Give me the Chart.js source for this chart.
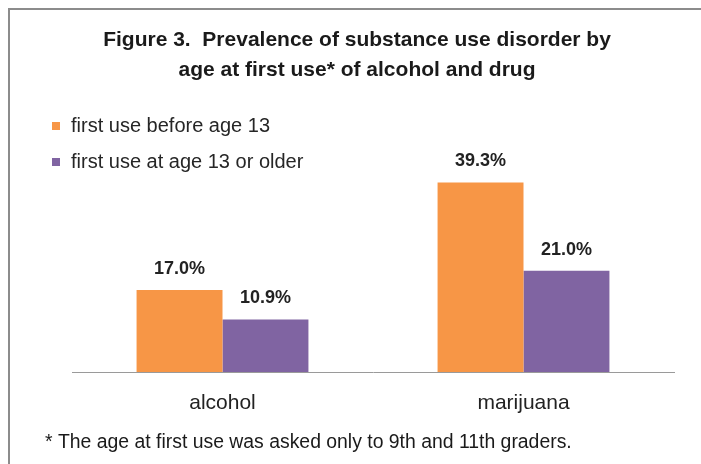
<!DOCTYPE html>
<html>
  <head>
    <title>Figure 3. Prevalence of substance use disorder by age at first use</title>
    <script src="https://cdn.jsdelivr.net/npm/chart.js@4/dist/chart.umd.min.js"></script>
    <style>
      html, body { margin: 0; padding: 0; background: #fff; }
      .wrapper { position: relative; width: 701px; height: 464px; }
    </style>
  </head>
  <body>
    <div class="wrapper">
      <canvas id="myChart" width="701" height="464"></canvas>
    </div>

    <script>
// categories along the x-axis
var substances = ['alcohol', 'marijuana'];
// prevalence (%) for each group
var beforeThirteen = [17.0, 39.3];
var thirteenOrOlder = [10.9, 21.0];
var seriesNames = ['first use before age 13', 'first use at age 13 or older'];
var titleLines = ['Figure 3.  Prevalence of substance use disorder by', 'age at first use* of alcohol and drug'];
var footnote = '* The age at first use was asked only to 9th and 11th graders.';

var FONT = 'Liberation Sans, Arial, sans-serif';

// white page + the grey frame on the top and left edges
var framePlugin = {
  id: 'frame',
  beforeDraw: function (c) {
    var ctx = c.ctx;
    ctx.save();
    ctx.fillStyle = '#fff';
    ctx.fillRect(0, 0, c.width, c.height);
    ctx.strokeStyle = '#8c8c8c';
    ctx.lineWidth = 2;
    ctx.beginPath();
    ctx.moveTo(9, c.height);
    ctx.lineTo(9, 9);
    ctx.lineTo(c.width, 9);
    ctx.stroke();
    ctx.restore();
  }
};

// values on top of the bars
var valueLabels = {
  id: 'valueLabels',
  afterDatasetsDraw: function (c) {
    var ctx = c.ctx;
    ctx.save();
    ctx.font = 'bold 18px ' + FONT;
    ctx.fillStyle = '#222';
    ctx.textAlign = 'center';
    ctx.textBaseline = 'middle';
    c.data.datasets.forEach(function (ds, i) {
      c.getDatasetMeta(i).data.forEach(function (bar, j) {
        ctx.fillText(ds.data[j].toFixed(1) + '%', bar.x, bar.y - 21);
      });
    });
    ctx.restore();
  }
};

// title, legend in the top-left of the plot, and the footnote
var sideText = {
  id: 'sideText',
  afterDraw: function (c) {
    var ctx = c.ctx;
    ctx.save();
    ctx.textBaseline = 'middle';

    ctx.textAlign = 'center';
    ctx.font = 'bold 21px ' + FONT;
    ctx.fillStyle = '#1a1a1a';
    titleLines.forEach(function (line, i) {
      ctx.fillText(line, 357, 40 + i * 30.5);
    });

    ctx.textAlign = 'left';
    ctx.font = '20px ' + FONT;
    c.data.datasets.forEach(function (ds, i) {
      var y = 126 + i * 36;
      ctx.fillStyle = ds.backgroundColor;
      ctx.fillRect(52, y - 4, 8, 8);
      ctx.fillStyle = '#262626';
      ctx.fillText(ds.label, 71, y);
    });

    ctx.font = '19.4px ' + FONT;
    ctx.fillStyle = '#1a1a1a';
    ctx.fillText(footnote, 45, 443);
    ctx.restore();
  }
};

var ctx = document.getElementById('myChart').getContext('2d');
var myChart = new Chart(ctx, {
  type: 'bar',
  data: {
    labels: substances,
    datasets: [
      { label: seriesNames[0], data: beforeThirteen, backgroundColor: '#F79646' },
      { label: seriesNames[1], data: thirteenOrOlder, backgroundColor: '#8064A2' }
    ]
  },
  options: {
    responsive: false,
    animation: false,
    layout: { padding: { left: 72, right: 27, top: 155, bottom: 0 } },
    datasets: { bar: { categoryPercentage: 0.571, barPercentage: 1.0 } },
    plugins: {
      legend: { display: false },
      tooltip: { enabled: false },
      title: { display: false }
    },
    scales: {
      x: {
        grid: { display: false, drawTicks: false },
        border: { display: true, color: '#9a9a9a', width: 1 },
        ticks: { color: '#222', padding: 19, font: { family: FONT, size: 21 } },
        afterFit: function (scale) { scale.height = 92; }
      },
      y: {
        display: false,
        min: 0,
        max: 45
      }
    }
  },
  plugins: [framePlugin, valueLabels, sideText]
});
    </script>
  </body>
</html>
